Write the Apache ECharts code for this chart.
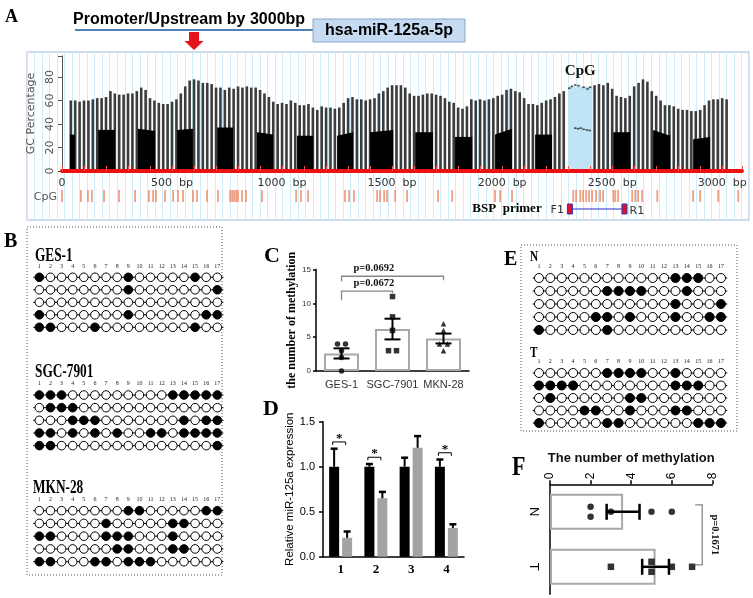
<!DOCTYPE html>
<html>
<head>
<meta charset="utf-8">
<script src="https://cdn.jsdelivr.net/npm/echarts@6/dist/echarts.min.js"></script>
<style>
html,body{margin:0;padding:0;background:#ffffff;}
#chart{width:753px;height:598px;}
</style>
</head>
<body>
<div id="chart"></div>
<script>
// ---------------- data ----------------
const gcStart = 40;
const gcStep = 20;
const gcValues = [
 60,60,59,60,60,61,62,62,63,68,66,65,65,66,66,68,71,69,
 62,60,58,57,57,59,61,66,72,77,78,77,75,75,74,71,71,69,71,70,
 72,71,72,71,71,69,66,63,59,57,58,57,60,58,56,56,57,54,52,55,
 54,54,53,54,58,62,63,61,61,60,61,62,66,68,71,73,73,73,71,66,
 64,64,65,66,66,65,64,62,59,58,54,53,55,61,60,61,60,61,62,64,
 65,69,70,68,67,62,57,57,56,58,60,61,63,66,68,null,null,null,null,null,
 null,73,74,73,75,70,64,63,62,64,72,75,78,76,68,64,60,56,56,55,
 53,52,52,51,51,52,56,60,61,61,62,61
];
const blackBlocks = [
 [36,59,31,31],[164,241,35,35],[345,423,36,34],[523,595,35,36],[705,777,37,37],
 [886,959,33,31],[1068,1141,30,30],[1250,1323,30,33],[1400,1505,33,35],[1605,1686,33,33],
 [1786,1864,29,29],[1968,2045,31,36],[2150,2227,31,31],[2505,2582,33,33],[2686,2764,35,30],
 [2868,2945,27,29]
];
const cpgIsland = [2300, 2410, 72];
const cpgTopDots = [[2305,70.5],[2317,72],[2332,73.2],[2347,72.6],[2370,71.2],[2388,69.8],[2400,71.2]];
const cpgInnerDots = [[2332,36.5],[2345,36],[2357,36.5],[2370,35.5],[2385,35],[2398,34.5]];
const cpgSites = [0,86,118,136,191,259,332,395,414,427,468,505,527,550,595,614,659,709,764,773,782,791,800,818,836,909,
 1064,1086,1118,1286,1305,1327,1432,1445,1464,1477,1514,1568,1709,1773,1968,1991,2045,
 2323,2336,2355,2368,2382,2395,2409,2427,2445,2459,2505,2514,2527,2591,2605,2618,2636,2705,2868,2900,2982,3073];
const bspPrimer = [2308, 2556];
const gcTickLabels = ['0','500  bp','1000  bp','1500  bp','2000  bp','2500  bp','3000  bp'];

const siteLabels = ['1','2','3','4','5','6','7','8','9','10','11','12','13','14','15','16','17'];
const gesRows = [[1,9,15],[9,17],[],[1,9,16,17],[1,2,6,15]];
const sgcRows = [[1,2,3,13,14,15,16,17],[2,3,4],[4,5,6,14,16,17],[1,2,4,6,8,11,12,14,15,16,17],[1,2,17]];
const mknRows = [[9,10,16,17],[7,13,14],[1,2,7,8,9,13],[8,9,13,14],[1,2,6,7,9,10,11]];
const nRows = [[13,14,15],[7,8,9,10,14],[13,17],[6,7,9,13,16,17],[1,7]];
const tRows = [[7,8,9,10,13],[1,2,3,4,13,14,15],[2,9,10],[5,6,9,13,14],[1,7,8,15,16,17]];

const cCategories = ['GES-1','SGC-7901','MKN-28'];
const cPoints = [[4,4,3,2,0],[11,8,6,3,3],[7,6,4,4,3]];
const cMeans = [2.6, 6.2, 4.8];
const cSem = [0.75, 1.53, 0.73];
const cPValues = ['p=0.0692','p=0.0672'];

const dCategories = ['1','2','3','4'];
const dBlack = [1.0, 1.0, 1.0, 1.0];
const dBlackErr = [0.2, 0.03, 0.1, 0.08];
const dGray = [0.21, 0.65, 1.21, 0.32];
const dGrayErr = [0.07, 0.07, 0.13, 0.04];
const dStars = ['*','*','','*'];

const fCategories = ['N','T'];
const fPoints = [[2,2,3,5,6],[3,5,5,6,7]];
const fMeans = [3.6, 5.2];
const fSem = [0.81, 0.66];
const fPValue = 'p=0.1671';

// ---------------- helpers ----------------
const SERIF = '"Liberation Serif","Times New Roman",serif';
const SANS = '"Liberation Sans",Arial,sans-serif';
const DV = '"DejaVu Sans",Verdana,sans-serif';

function txt(x, y, text, font, align, extra, color) {
  return Object.assign({
    type: 'text', x: x, y: y, z: 100,
    style: {text: text, font: font, fill: color || '#000', align: align || 'left', textAlign: align || 'left',
            verticalAlign: 'middle', textVerticalAlign: 'middle'}
  }, extra || {});
}
function lolliSeries(rows, gi, size) {
  return {
    type: 'custom', xAxisIndex: gi, yAxisIndex: gi, clip: false,
    data: rows.map((r, i) => [1, i + 1]),
    renderItem: (params, api) => {
      const row = rows[params.dataIndex];
      const yv = api.value(1);
      const a = api.coord([0.45, yv]), b = api.coord([17.55, yv]);
      const ch = [{type: 'line', shape: {x1: a[0], y1: a[1], x2: b[0], y2: b[1]}, style: {stroke: '#000', lineWidth: 1}}];
      for (let s = 1; s <= 17; s++) {
        const c = api.coord([s, yv]);
        ch.push({type: 'circle', shape: {cx: c[0], cy: c[1], r: size / 2},
          style: {fill: row.indexOf(s) >= 0 ? '#000' : '#fff', stroke: '#000', lineWidth: 1}});
      }
      return {type: 'group', children: ch};
    }
  };
}
function offsets(vals, d) {
  const seen = {};
  return vals.map(v => {
    const n = vals.filter(x => x === v).length;
    if (n < 2) return 0;
    seen[v] = (seen[v] || 0) + 1;
    return seen[v] === 1 ? -d : d;
  });
}
function lolliX(gi) {
  return {gridIndex: gi, type: 'value', min: 0, max: 18, interval: 1, position: 'top',
    axisLine: {show: false}, axisTick: {show: false}, splitLine: {show: false},
    axisLabel: {formatter: v => (v >= 1 && v <= 17) ? siteLabels[v - 1] : '', fontFamily: SERIF, fontSize: 6, color: '#222', margin: 2}};
}
function lolliY(gi) { return {gridIndex: gi, type: 'value', min: 0.5, max: 5.5, inverse: true, show: false}; }
function hiddenX(gi) { return {gridIndex: gi, type: 'value', min: 0, max: 3090, show: false}; }
function hiddenY(gi) { return {gridIndex: gi, type: 'value', min: 0, max: 1, show: false}; }

const blackLine = {lineStyle: {color: '#000', width: 1.5}};

// ---------------- option ----------------
const option = {
  animation: false,
  backgroundColor: '#ffffff',
  textStyle: {fontFamily: SANS},
  grid: [
    {left: 27, top: 52, width: 722, height: 168, show: true, borderColor: '#9fb8d8', borderWidth: 1, backgroundColor: '#fff'}, //0
    {left: 62, top: 55.85, width: 680, height: 115.15}, //1 GC
    {left: 62, top: 190, width: 680, height: 12}, //2 CpG
    {left: 62, top: 204, width: 680, height: 10}, //3 BSP
    {left: 28.2, top: 271.05, width: 200.25, height: 62.5}, //4 GES
    {left: 28.2, top: 388.7, width: 200.25, height: 63.25}, //5 SGC
    {left: 28.2, top: 504.3, width: 200.25, height: 63.75}, //6 MKN
    {left: 527.6, top: 271.5, width: 204.75, height: 65}, //7 N
    {left: 527.6, top: 366.75, width: 204.75, height: 62.5}, //8 T
    {left: 316, top: 269.5, width: 153, height: 101.5}, //9 C
    {left: 323, top: 421.7, width: 141, height: 135}, //10 D
    {left: 550, top: 484.3, width: 162.4, height: 110} //11 F
  ],
  xAxis: [
    {gridIndex: 0, type: 'value', min: 0, max: 96, interval: 1, axisLine: {show: false}, axisTick: {show: false},
      axisLabel: {show: false}, splitLine: {show: true, lineStyle: {color: '#cdeef8', width: 1}}},
    {gridIndex: 1, type: 'value', min: 0, max: 3090, interval: 100, z: 5,
      axisLine: {show: true, lineStyle: {color: '#ee1111', width: 4}},
      axisTick: {show: true, inside: true, length: 5, lineStyle: {color: '#ff4a4a', width: 1}},
      axisLabel: {formatter: v => (v % 500 === 0 && v <= 3000) ? gcTickLabels[v / 500] : '', color: '#333', fontFamily: DV, fontSize: 11, margin: 7},
      splitLine: {show: false}},
    hiddenX(2), hiddenX(3),
    lolliX(4), lolliX(5), lolliX(6), lolliX(7), lolliX(8),
    {gridIndex: 9, type: 'category', data: cCategories, axisLine: blackLine,
      axisTick: {alignWithLabel: true, length: 3, lineStyle: {color: '#000', width: 1.5}},
      axisLabel: {interval: 0, color: '#333', fontFamily: SANS, fontSize: 11, margin: 8}},
    {gridIndex: 10, type: 'category', data: dCategories, axisLine: blackLine,
      axisTick: {length: 4, lineStyle: {color: '#000', width: 1.5}},
      axisLabel: {interval: 0, fontFamily: SERIF, fontWeight: 'bold', fontSize: 13, color: '#000', margin: 6}},
    {gridIndex: 11, type: 'value', position: 'top', min: 0, max: 8, interval: 2,
      name: 'The number of methylation', nameLocation: 'middle', nameGap: 19,
      nameTextStyle: {fontFamily: SANS, fontSize: 13, fontWeight: 'bold', color: '#111', verticalAlign: 'bottom'},
      axisLine: {show: true, lineStyle: {color: '#000', width: 1.5}},
      axisTick: {show: true, length: 4, lineStyle: {color: '#000', width: 1.5}},
      axisLabel: {rotate: -90, fontFamily: SANS, fontSize: 12, color: '#000', margin: 5},
      splitLine: {show: false}}
  ],
  yAxis: [
    {gridIndex: 0, type: 'value', min: 0, max: 1, show: false},
    {gridIndex: 1, type: 'value', min: 0, max: 98, interval: 20,
      name: 'GC Percentage', nameLocation: 'middle', nameGap: 19, nameRotate: 90,
      nameTextStyle: {fontFamily: DV, fontSize: 11, color: '#555', verticalAlign: 'bottom'},
      axisLine: {show: true, lineStyle: {color: '#555', width: 1}},
      axisTick: {show: true, length: 4, lineStyle: {color: '#555'}},
      axisLabel: {rotate: 90, fontFamily: DV, fontSize: 11, color: '#555', margin: 6, formatter: v => v > 80 ? '' : String(v)},
      splitLine: {show: false}},
    hiddenY(2), hiddenY(3),
    lolliY(4), lolliY(5), lolliY(6), lolliY(7), lolliY(8),
    {gridIndex: 9, type: 'value', min: 0, max: 15, interval: 5,
      name: 'the number of methylation', nameLocation: 'middle', nameGap: 18, nameRotate: 90,
      nameTextStyle: {fontFamily: SERIF, fontWeight: 'bold', fontSize: 12, color: '#000', verticalAlign: 'bottom'},
      axisLine: {show: true, lineStyle: {color: '#000', width: 1.5}},
      axisTick: {show: true, length: 3, lineStyle: {color: '#000', width: 1.5}},
      axisLabel: {fontFamily: SANS, fontSize: 8, color: '#333', margin: 5}, splitLine: {show: false}},
    {gridIndex: 10, type: 'value', min: 0, max: 1.5, interval: 0.5,
      name: 'Relative miR-125a expression', nameLocation: 'middle', nameGap: 25, nameRotate: 90,
      nameTextStyle: {fontFamily: SANS, fontSize: 11.5, color: '#000', verticalAlign: 'bottom'},
      axisLine: {show: true, lineStyle: {color: '#000', width: 1.5}},
      axisTick: {show: true, length: 4, lineStyle: {color: '#000', width: 1.5}},
      axisLabel: {formatter: v => v.toFixed(1), fontFamily: SANS, fontSize: 11, color: '#000', margin: 8}, splitLine: {show: false}},
    {gridIndex: 11, type: 'category', data: fCategories, inverse: true, axisLine: blackLine,
      axisTick: {alignWithLabel: true, length: 6, lineStyle: {color: '#000', width: 1.5}},
      axisLabel: {interval: 0, rotate: -90, fontFamily: SANS, fontSize: 13, color: '#000', margin: 10}}
  ],
  series: [
    // GC percentage columns
    {type: 'bar', xAxisIndex: 1, yAxisIndex: 1, barWidth: 2.6,
      data: gcValues.map((v, i) => [gcStart + i * gcStep, v]),
      itemStyle: {color: '#3c3c3c'},
      markArea: {silent: true, itemStyle: {color: '#bfe4f5'},
        label: {show: true, position: 'top', distance: 8, formatter: 'CpG', fontFamily: SERIF, fontWeight: 'bold', fontSize: 15, color: '#111'},
        data: [[{xAxis: cpgIsland[0], yAxis: 0}, {xAxis: cpgIsland[1], yAxis: cpgIsland[2]}]]}},
    // black lower blocks
    {type: 'custom', xAxisIndex: 1, yAxisIndex: 1, z: 3, data: blackBlocks,
      renderItem: (p, api) => {
        const a = api.coord([api.value(0), 0]), b = api.coord([api.value(0), api.value(2)]);
        const c = api.coord([api.value(1), api.value(3)]), d = api.coord([api.value(1), 0]);
        return {type: 'polygon', shape: {points: [a, b, c, d]}, style: {fill: '#000'}};
      }},
    {type: 'scatter', xAxisIndex: 1, yAxisIndex: 1, data: cpgTopDots.concat(cpgInnerDots),
      symbol: 'rect', symbolSize: [2.5, 1.6], itemStyle: {color: '#222'}},
    // CpG sites
    {type: 'scatter', xAxisIndex: 2, yAxisIndex: 2, data: cpgSites.map(b => [b, 0.5]),
      symbol: 'rect', symbolSize: [1.8, 12], itemStyle: {color: '#ea8a66'}},
    // BSP primer
    {type: 'custom', xAxisIndex: 3, yAxisIndex: 3, data: [[bspPrimer[0], 0.5, bspPrimer[1]]],
      renderItem: (p, api) => {
        const f = api.coord([api.value(0), 0.5]), r = api.coord([api.value(2), 0.5]);
        const y = f[1];
        const ts = (t, al) => ({text: t, font: '11px ' + DV, fill: '#333', align: al, textAlign: al, verticalAlign: 'middle', textVerticalAlign: 'middle'});
        return {type: 'group', children: [
          {type: 'line', shape: {x1: f[0], y1: y, x2: r[0], y2: y}, style: {stroke: '#2a2acc', lineWidth: 1.2}},
          {type: 'rect', shape: {x: f[0] - 2.5, y: y - 5, width: 5, height: 10}, style: {fill: '#e0102a', stroke: '#3333bb', lineWidth: 1}},
          {type: 'rect', shape: {x: r[0] - 2.5, y: y - 5, width: 5, height: 10}, style: {fill: '#e0102a', stroke: '#3333bb', lineWidth: 1}},
          {type: 'text', x: f[0] - 6, y: y + 1, style: ts('F1', 'right')},
          {type: 'text', x: r[0] + 5, y: y + 2, style: ts('R1', 'left')}
        ]};
      }},
    // B & E lollipops
    lolliSeries(gesRows, 4, 8.6),
    lolliSeries(sgcRows, 5, 8.6),
    lolliSeries(mknRows, 6, 8.6),
    lolliSeries(nRows, 7, 9),
    lolliSeries(tRows, 8, 9),
    // C
    {type: 'bar', xAxisIndex: 9, yAxisIndex: 9, data: cMeans, barWidth: 35,
      itemStyle: {color: 'rgba(255,255,255,0)', borderColor: '#a8a8a8', borderWidth: 2}},
    {type: 'custom', xAxisIndex: 9, yAxisIndex: 9, z: 4, data: cMeans.map((m, i) => [i, m, cSem[i]]),
      renderItem: (p, api) => {
        const i = api.value(0), m = api.value(1), s = api.value(2);
        const t = api.coord([i, m + s]), b = api.coord([i, m - s]); const w = 8;
        const st = {stroke: '#000', lineWidth: 2};
        return {type: 'group', children: [
          {type: 'line', shape: {x1: t[0], y1: t[1], x2: b[0], y2: b[1]}, style: st},
          {type: 'line', shape: {x1: t[0] - w, y1: t[1], x2: t[0] + w, y2: t[1]}, style: st},
          {type: 'line', shape: {x1: b[0] - w, y1: b[1], x2: b[0] + w, y2: b[1]}, style: st}
        ]};
      }},
    ...cPoints.map((vals, gi) => {
      const off = offsets(vals, 4);
      return {type: 'scatter', xAxisIndex: 9, yAxisIndex: 9, z: 5,
        symbol: ['circle', 'rect', 'triangle'][gi], symbolSize: 5.5, itemStyle: {color: '#000'},
        data: vals.map((v, k) => ({value: [gi, v], symbolOffset: [off[k], 0]}))};
    }),
    {type: 'custom', xAxisIndex: 9, yAxisIndex: 9, data: [[0, 2], [0, 1]],
      renderItem: (p, api) => {
        const k = p.dataIndex;
        const yv = [14.0, 11.8][k], legs = [[5, 4], [9, 2]][k];
        const a = api.coord([api.value(0), yv]), b = api.coord([api.value(1), yv]);
        const st = {stroke: '#888', lineWidth: 1.3, fill: null};
        return {type: 'group', children: [
          {type: 'polyline', shape: {points: [[a[0], a[1] + legs[0]], [a[0], a[1]], [b[0], b[1]], [b[0], b[1] + legs[1]]]}, style: st},
          {type: 'text', x: a[0] + 12, y: a[1] - 2, style: {text: cPValues[k], font: 'bold 10.5px ' + SERIF, fill: '#111',
            align: 'left', textAlign: 'left', verticalAlign: 'bottom', textVerticalAlign: 'bottom'}}
        ]};
      }},
    // D
    {type: 'bar', xAxisIndex: 10, yAxisIndex: 10, data: dBlack, barWidth: 10, barGap: '30%', itemStyle: {color: '#000'}},
    {type: 'bar', xAxisIndex: 10, yAxisIndex: 10, data: dGray, barWidth: 10, itemStyle: {color: '#a3a3a3'}},
    ...[[dBlack, dBlackErr, -6.5], [dGray, dGrayErr, 6.5]].map(([vals, errs, off]) => ({
      type: 'custom', xAxisIndex: 10, yAxisIndex: 10, z: 4, data: vals.map((v, i) => [i, v, errs[i]]),
      renderItem: (p, api) => {
        const i = api.value(0), v = api.value(1), e = api.value(2);
        const a = api.coord([i, v]), t = api.coord([i, v + e]); const x = a[0] + off;
        return {type: 'group', children: [
          {type: 'line', shape: {x1: x, y1: a[1], x2: x, y2: t[1]}, style: {stroke: '#000', lineWidth: 2}},
          {type: 'line', shape: {x1: x - 3.5, y1: t[1], x2: x + 3.5, y2: t[1]}, style: {stroke: '#000', lineWidth: 2.5}}
        ]};
      }})),
    {type: 'custom', xAxisIndex: 10, yAxisIndex: 10,
      data: dStars.map((s, i) => [i, Math.max(dBlack[i] + dBlackErr[i], dGray[i] + dGrayErr[i]) + 0.075]).filter((d, i) => dStars[i] !== ''),
      renderItem: (p, api) => {
        const i = api.value(0), h = api.value(1);
        const c = api.coord([i, h]);
        const x1 = c[0] - 8, x2 = c[0] + 5, y = c[1];
        return {type: 'group', children: [
          {type: 'polyline', shape: {points: [[x1, y + 3], [x1, y], [x2, y], [x2, y + 3]]}, style: {stroke: '#000', lineWidth: 1, fill: null}},
          {type: 'text', x: (x1 + x2) / 2, y: y + 3, style: {text: dStars[i], font: 'bold 13px ' + SERIF, fill: '#000',
            align: 'center', textAlign: 'center', verticalAlign: 'bottom', textVerticalAlign: 'bottom'}}
        ]};
      }},
    // F
    {type: 'bar', xAxisIndex: 11, yAxisIndex: 11, data: fMeans, barWidth: 36,
      itemStyle: {color: 'rgba(255,255,255,0)', borderColor: '#a8a8a8', borderWidth: 2}},
    {type: 'custom', xAxisIndex: 11, yAxisIndex: 11, z: 4, data: fMeans.map((m, i) => [m, i, fSem[i]]),
      renderItem: (p, api) => {
        const m = api.value(0), i = api.value(1), s = api.value(2);
        const l = api.coord([m - s, i]), r = api.coord([m + s, i]); const h = 8;
        const st = {stroke: '#000', lineWidth: 2.5};
        return {type: 'group', children: [
          {type: 'line', shape: {x1: l[0], y1: l[1], x2: r[0], y2: r[1]}, style: st},
          {type: 'line', shape: {x1: l[0], y1: l[1] - h, x2: l[0], y2: l[1] + h}, style: st},
          {type: 'line', shape: {x1: r[0], y1: r[1] - h, x2: r[0], y2: r[1] + h}, style: st}
        ]};
      }},
    ...fPoints.map((vals, gi) => {
      const off = offsets(vals, 5);
      return {type: 'scatter', xAxisIndex: 11, yAxisIndex: 11, z: 5,
        symbol: ['circle', 'rect'][gi], symbolSize: 6.5, itemStyle: {color: '#000'},
        data: vals.map((v, k) => ({value: [v, gi], symbolOffset: [0, off[k]]}))};
    }),
    {type: 'custom', xAxisIndex: 11, yAxisIndex: 11, data: [[7.5, 0, 1]],
      renderItem: (p, api) => {
        const t = api.coord([api.value(0), api.value(1)]), b = api.coord([api.value(0), api.value(2)]);
        const x = t[0], y0 = t[1] - 7, y1 = b[1] - 2;
        return {type: 'group', children: [
          {type: 'polyline', shape: {points: [[x - 7, y0], [x, y0], [x, y1], [x - 7, y1]]}, style: {stroke: '#888', lineWidth: 1.3, fill: null}},
          {type: 'text', x: x + 12, y: (y0 + y1) / 2, rotation: -Math.PI / 2,
            style: {text: fPValue, font: 'bold 10.5px ' + SERIF, fill: '#111', align: 'center', textAlign: 'center', verticalAlign: 'middle', textVerticalAlign: 'middle'}}
        ]};
      }}
  ],
  graphic: [
    txt(5, 17, 'A', 'bold 18px ' + SERIF),
    txt(73, 20, 'Promoter/Upstream by 3000bp', 'bold 16px ' + SANS),
    {type: 'line', z: 99, shape: {x1: 75, y1: 30, x2: 314, y2: 30}, style: {stroke: '#4f81bd', lineWidth: 2}},
    {type: 'rect', z: 99, shape: {x: 313, y: 19, width: 152, height: 23}, style: {fill: '#c6daf1', stroke: '#8aa6c8', lineWidth: 1}},
    txt(389, 31, 'hsa-miR-125a-5p', 'bold 16px ' + SANS, 'center'),
    {type: 'polygon', z: 99, shape: {points: [[189, 32], [199, 32], [199, 41], [203.5, 41], [194, 50], [184.5, 41], [189, 41]]}, style: {fill: '#e8141c'}},
    txt(57, 197, 'CpG', '11px ' + DV, 'right', null, '#555'),
    txt(507, 209, 'BSP  primer', 'bold 13px ' + SERIF, 'center'),
    {type: 'rect', z: 98, shape: {x: 27, y: 227, width: 195, height: 348}, style: {fill: null, stroke: '#555', lineWidth: 1, lineDash: [1, 2]}},
    txt(4, 242, 'B', 'bold 20px ' + SERIF),
    txt(35, 256.5, 'GES-1', 'bold 19px ' + SERIF, 'left', {scaleX: 0.7}),
    txt(35, 372, 'SGC-7901', 'bold 19px ' + SERIF, 'left', {scaleX: 0.7}),
    txt(33, 488, 'MKN-28', 'bold 19px ' + SERIF, 'left', {scaleX: 0.7}),
    txt(264, 256, 'C', 'bold 22px ' + SERIF),
    txt(263, 409, 'D', 'bold 22px ' + SERIF),
    {type: 'rect', z: 98, shape: {x: 521, y: 245, width: 216, height: 186}, style: {fill: null, stroke: '#555', lineWidth: 1, lineDash: [1, 2]}},
    txt(504, 260, 'E', 'bold 20px ' + SERIF),
    txt(530, 257.5, 'N', 'bold 15px ' + SERIF, 'left', {scaleX: 0.75}),
    txt(530, 353, 'T', 'bold 15px ' + SERIF, 'left', {scaleX: 0.75}),
    txt(512, 468, 'F', 'bold 22px ' + SERIF, 'left', {scaleY: 1.25})
  ]
};
const chart = echarts.init(document.getElementById('chart'), null, {renderer: 'canvas'});
chart.setOption(option);
</script>
</body>
</html>
